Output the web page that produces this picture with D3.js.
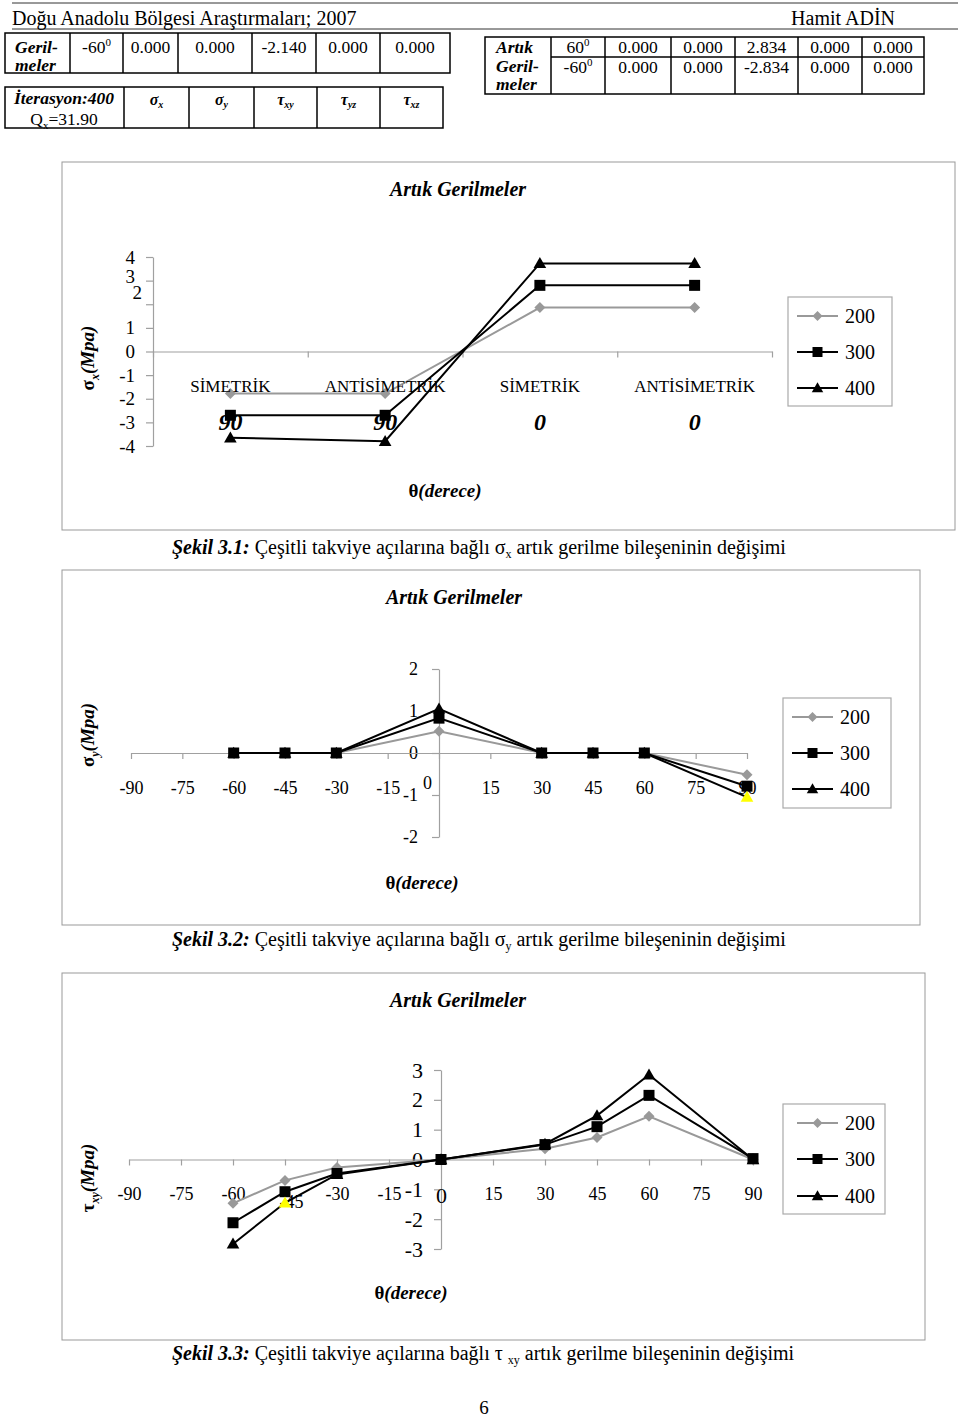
<!DOCTYPE html>
<html>
<head>
<meta charset="utf-8">
<script src="https://cdn.jsdelivr.net/npm/d3@7"></script>
<style>
body { margin: 0; background: #fff; }
svg text { font-family: "Liberation Serif", "Times New Roman", serif; fill: #000; }
</style>
</head>
<body>
<svg></svg>
<script>

// ---- data ----
var seriesNames = ["200", "300", "400"]

// tables
var tab1Row = ["-60", "0.000", "0.000", "-2.140", "0.000", "0.000"]
var tab2Heads = [["σ", "x"], ["σ", "y"], ["τ", "xy"], ["τ", "yz"], ["τ", "xz"]]
var tab3Row1 = ["60", "0.000", "0.000", "2.834", "0.000", "0.000"]
var tab3Row2 = ["-60", "0.000", "0.000", "-2.834", "0.000", "0.000"]

// Sekil 3.1 (sigma x)
var sxGroups = ["SİMETRİK", "ANTİSİMETRİK", "SİMETRİK", "ANTİSİMETRİK"]
var sxAngles = ["90", "90", "0", "0"]
var sxTicks = [-4, -3, -2, -1, 0, 1, 2, 3, 4]
var sx200 = [-1.78, -1.78, 1.86, 1.86]
var sx300 = [-2.7, -2.7, 2.8, 2.8]
var sx400 = [-3.65, -3.8, 3.73, 3.73]

// Sekil 3.2 / 3.3
var thetaTicks = [-90, -75, -60, -45, -30, -15, 0, 15, 30, 45, 60, 75, 90]
var thetas = [-60, -45, -30, 0, 30, 45, 60, 90]

var syTicks = [-2, -1, 0, 1, 2]
var sy200 = [0, 0, 0, 0.52, 0, 0, 0, -0.52]
var sy300 = [0, 0, 0, 0.83, 0, 0, 0, -0.79]
var sy400 = [0, 0, 0, 1.05, 0, 0, 0, -1.05]

var txyTicks = [-3, -2, -1, 0, 1, 2, 3]
var txy200 = [-1.47, -0.7, -0.27, 0, 0.36, 0.74, 1.45, 0]
var txy300 = [-2.12, -1.08, -0.47, 0, 0.5, 1.1, 2.15, 0.03]
var txy400 = [-2.83, -1.45, -0.5, 0, 0.52, 1.47, 2.84, 0]

// ---- styles ----
var serColor = ["#999999", "#000", "#000"]
var serShape = ["diamond", "square", "triangle"]
var axisGrey = "#a0a0a0"

var svg = d3.select("svg")
    .attr("width", 960)
    .attr("height", 1419)

svg.append("rect").attr("width", 960).attr("height", 1419).attr("fill", "#fff")

function marker(type, s) {
    if (type == "diamond") return "M0," + (-s) + "L" + s + ",0L0," + s + "L" + (-s) + ",0Z"
    if (type == "square") return "M" + (-s) + "," + (-s) + "H" + s + "V" + s + "H" + (-s) + "Z"
    return "M0," + (-s * 1.15) + "L" + (s * 1.15) + "," + (s * 0.85) + "L" + (-s * 1.15) + "," + (s * 0.85) + "Z"
}

// ---- page header ----
svg.append("line").attr("x1", 12).attr("x2", 958).attr("y1", 3).attr("y2", 3)
    .attr("stroke", "#333").attr("stroke-width", 1)
svg.append("line").attr("x1", 12).attr("x2", 958).attr("y1", 29).attr("y2", 29)
    .attr("stroke", "#333").attr("stroke-width", 1)
svg.append("text").attr("x", 12).attr("y", 25).style("font-size", "20px")
    .text("Doğu Anadolu Bölgesi Araştırmaları; 2007")
svg.append("text").attr("x", 895).attr("y", 25).attr("text-anchor", "end").style("font-size", "20px")
    .text("Hamit ADİN")

// ---- tables ----
function tableGrid(cols, rows, skipFirstCol) {
    var g = svg.append("g").attr("stroke", "#000").attr("stroke-width", 1.5).attr("fill", "none")
    g.append("rect").attr("x", cols[0]).attr("y", rows[0])
        .attr("width", cols[cols.length - 1] - cols[0]).attr("height", rows[rows.length - 1] - rows[0])
    cols.slice(1, -1).forEach(function (c) {
        g.append("line").attr("x1", c).attr("x2", c).attr("y1", rows[0]).attr("y2", rows[rows.length - 1])
    })
    rows.slice(1, -1).forEach(function (r) {
        g.append("line").attr("x1", skipFirstCol ? cols[1] : cols[0]).attr("x2", cols[cols.length - 1])
            .attr("y1", r).attr("y2", r)
    })
}

function degText(x, y, v) {
    var t = svg.append("text").attr("x", x).attr("y", y).attr("text-anchor", "middle").style("font-size", "17.5px")
    t.append("tspan").text(v)
    t.append("tspan").attr("dy", -7).style("font-size", "11px").text("0")
}

function cellText(x, y, v) {
    svg.append("text").attr("x", x).attr("y", y).attr("text-anchor", "middle").style("font-size", "17.5px").text(v)
}

function bi(x, y, v, anchor) {
    svg.append("text").attr("x", x).attr("y", y).attr("text-anchor", anchor || "start")
        .style("font-size", "17.5px").style("font-weight", "bold").style("font-style", "italic").text(v)
}

// table 1
var cols1 = [5, 70, 123, 178, 252, 316, 380, 450]
tableGrid(cols1, [33, 73], false)
bi(15, 53, "Geril-")
bi(15, 71, "meler")
tab1Row.forEach(function (v, i) {
    var cx = (cols1[i + 1] + cols1[i + 2]) / 2
    if (i == 0) degText(cx, 53, v)
    else cellText(cx, 53, v)
})

// table 2
var cols2 = [5, 124, 189, 254, 317, 380, 443]
tableGrid(cols2, [87, 128], false)
bi(64, 104, "İterasyon:400", "middle")
var q = svg.append("text").attr("x", 64).attr("y", 125).attr("text-anchor", "middle").style("font-size", "17.5px")
q.append("tspan").text("Q")
q.append("tspan").attr("dy", 4).style("font-size", "11px").text("x")
q.append("tspan").attr("dy", -4).text("=31.90")
tab2Heads.forEach(function (h, i) {
    var cx = (cols2[i + 1] + cols2[i + 2]) / 2
    var t = svg.append("text").attr("x", cx).attr("y", 105).attr("text-anchor", "middle")
        .style("font-size", "16px").style("font-weight", "bold").style("font-style", "italic")
    t.append("tspan").text(h[0])
    t.append("tspan").attr("dy", 3).style("font-size", "10px").text(h[1])
})

// table 3 (right)
var cols3 = [485, 551, 605, 671, 735, 798, 862, 924]
tableGrid(cols3, [37, 57, 94], true)
bi(496, 53, "Artık")
bi(496, 72, "Geril-")
bi(496, 90, "meler")
tab3Row1.forEach(function (v, i) {
    var cx = (cols3[i + 1] + cols3[i + 2]) / 2
    if (i == 0) degText(cx, 53, v)
    else cellText(cx, 53, v)
})
tab3Row2.forEach(function (v, i) {
    var cx = (cols3[i + 1] + cols3[i + 2]) / 2
    if (i == 0) degText(cx, 73, v)
    else cellText(cx, 73, v)
})

// ---- chart helpers ----
function frame(x, y, w, h, titleX) {
    svg.append("rect").attr("x", x).attr("y", y).attr("width", w).attr("height", h)
        .attr("fill", "none").attr("stroke", "#999").attr("stroke-width", 1)
    svg.append("text").attr("x", titleX).attr("y", y + 34).attr("text-anchor", "middle")
        .style("font-size", "20px").style("font-weight", "bold").style("font-style", "italic")
        .text("Artık Gerilmeler")
}

function styleAxis(g) {
    g.selectAll("path, line").attr("stroke", axisGrey).attr("stroke-width", 1.2)
    g.selectAll("text").attr("fill", "#000").style("font-family", '"Liberation Serif", serif')
}

function drawSeries(g, xs, ys, k, hl) {
    g.append("path")
        .attr("d", d3.line()(xs.map(function (x, i) { return [x, ys[i]] })))
        .attr("fill", "none").attr("stroke", serColor[k]).attr("stroke-width", 2)
    g.selectAll(".m" + k).data(xs).enter().append("path")
        .attr("transform", function (x, i) { return "translate(" + x + "," + ys[i] + ")" })
        .attr("d", marker(serShape[k], 5.5))
        .attr("fill", function (x, i) { return hl === i ? "#ffff00" : serColor[k] })
}

function legend(x, y, w, h, rowsY, lineX) {
    var g = svg.append("g")
    g.append("rect").attr("x", x).attr("y", y).attr("width", w).attr("height", h)
        .attr("fill", "#fff").attr("stroke", "#aaa").attr("stroke-width", 1.2)
    seriesNames.forEach(function (s, k) {
        g.append("line").attr("x1", lineX).attr("x2", lineX + 41).attr("y1", rowsY[k]).attr("y2", rowsY[k])
            .attr("stroke", serColor[k]).attr("stroke-width", 2)
        g.append("path").attr("transform", "translate(" + (lineX + 20.5) + "," + rowsY[k] + ")")
            .attr("d", marker(serShape[k], 5)).attr("fill", serColor[k])
        g.append("text").attr("x", lineX + 48).attr("y", rowsY[k] + 7).style("font-size", "20px").text(s)
    })
}

function yTitle(x, y, sym, sub) {
    var t = svg.append("text").attr("transform", "translate(" + x + "," + y + ") rotate(-90)")
        .attr("text-anchor", "middle").style("font-size", "19px").style("font-weight", "bold")
    t.append("tspan").text(sym)
    t.append("tspan").attr("dy", 5).style("font-size", "12px").style("font-style", "italic").text(sub)
    t.append("tspan").attr("dy", -5).style("font-style", "italic").text("(Mpa)")
}

function xTitle(x, y) {
    var t = svg.append("text").attr("x", x).attr("y", y).attr("text-anchor", "middle")
        .style("font-size", "19px").style("font-weight", "bold")
    t.append("tspan").text("θ")
    t.append("tspan").style("font-style", "italic").text("(derece)")
}

function caption(y, num, sym, sub, gap) {
    var t = svg.append("text").attr("x", 172).attr("y", y).style("font-size", "20px")
    t.append("tspan").style("font-weight", "bold").style("font-style", "italic").text("Şekil 3." + num + ":")
    t.append("tspan").text(" Çeşitli takviye açılarına bağlı " + sym + gap)
    t.append("tspan").attr("dy", 4).style("font-size", "12px").text(sub)
    t.append("tspan").attr("dy", -4).text(" artık gerilme bileşeninin değişimi")
}

// ================= Şekil 3.1 =================
frame(62, 162, 893, 368, 458)

var x1 = d3.scaleBand().domain(d3.range(sxGroups.length)).range([153, 772])
var x1edges = d3.scaleLinear().domain([0, sxGroups.length]).range([153, 772])
var y1 = d3.scaleLinear().domain([-4, 4]).range([446, 257])

var g1 = svg.append("g")
var ax1 = g1.append("g").attr("transform", "translate(153,0)")
    .call(d3.axisLeft(y1).tickValues(sxTicks).tickSize(7).tickSizeOuter(0).tickPadding(11)
        .tickFormat(function (d) { return d }))
ax1.selectAll("text").style("font-size", "19px")
ax1.selectAll(".tick text").filter(function (d) { return d == 3 }).attr("dy", "0.12em")
ax1.selectAll(".tick text").filter(function (d) { return d == 2 }).attr("dy", "-0.3em").attr("x", -11)
styleAxis(ax1)

var bx1 = g1.append("g").attr("transform", "translate(0," + y1(0) + ")")
    .call(d3.axisBottom(x1edges).tickValues(d3.range(sxGroups.length + 1)).tickSize(6).tickSizeOuter(0)
        .tickFormat(""))
styleAxis(bx1)

var cx1 = sxGroups.map(function (d, i) { return x1(i) + x1.bandwidth() / 2 })
drawSeries(g1, cx1, sx200.map(y1), 0)
drawSeries(g1, cx1, sx300.map(y1), 1)
drawSeries(g1, cx1, sx400.map(y1), 2)

sxGroups.forEach(function (s, i) {
    g1.append("text").attr("x", cx1[i]).attr("y", 392).attr("text-anchor", "middle")
        .style("font-size", "17px").text(s)
    g1.append("text").attr("x", cx1[i]).attr("y", 430).attr("text-anchor", "middle")
        .style("font-size", "24px").style("font-weight", "bold").style("font-style", "italic").text(sxAngles[i])
})

legend(788, 297, 104, 109, [316, 352, 388], 797)
yTitle(94, 358, "σ", "x")
xTitle(445, 497)
caption(554, 1, "σ", "x", "")

// ================= Şekil 3.2 =================
frame(62, 570, 858, 355, 454)

var x2 = d3.scaleLinear().domain([-90, 90]).range([131, 747])
var y2 = d3.scaleLinear().domain([-2, 2]).range([837, 669])

var g2 = svg.append("g")
var ax2 = g2.append("g").attr("transform", "translate(" + x2(0) + ",0)")
    .call(d3.axisLeft(y2).tickValues(syTicks).tickSize(7).tickSizeOuter(0).tickPadding(14)
        .tickFormat(function (d) { return d }))
ax2.selectAll("text").style("font-size", "18px")
styleAxis(ax2)

var bx2 = g2.append("g").attr("transform", "translate(0," + y2(0) + ")")
    .call(d3.axisBottom(x2).tickValues(thetaTicks).tickSize(6).tickSizeOuter(0).tickPadding(22)
        .tickFormat(function (d) { return d }))
bx2.selectAll("text").style("font-size", "18px")
bx2.selectAll(".tick text").filter(function (d) { return d == 0 }).attr("x", -12).attr("y", 23)
styleAxis(bx2)

var tx2 = thetas.map(x2)
drawSeries(g2, tx2, sy200.map(y2), 0)
drawSeries(g2, tx2, sy300.map(y2), 1)
drawSeries(g2, tx2, sy400.map(y2), 2, 7)

legend(783, 698, 108, 110, [717, 753, 789], 792)
yTitle(94, 735, "σ", "y")
xTitle(422, 889)
caption(946, 2, "σ", "y", "")

// ================= Şekil 3.3 =================
frame(62, 973, 863, 367, 458)

var x3 = d3.scaleLinear().domain([-90, 90]).range([129, 753])
var y3 = d3.scaleLinear().domain([-3, 3]).range([1249, 1070])

var g3 = svg.append("g")
var ax3 = g3.append("g").attr("transform", "translate(" + x3(0) + ",0)")
    .call(d3.axisLeft(y3).tickValues(txyTicks).tickSize(7).tickSizeOuter(0).tickPadding(11)
        .tickFormat(function (d) { return d }))
ax3.selectAll("text").style("font-size", "22px")
styleAxis(ax3)

var bx3 = g3.append("g").attr("transform", "translate(0," + y3(0) + ")")
    .call(d3.axisBottom(x3).tickValues(thetaTicks).tickSize(6).tickSizeOuter(0).tickPadding(22)
        .tickFormat(function (d) { return d }))
bx3.selectAll("text").style("font-size", "18px")
bx3.selectAll(".tick text").filter(function (d) { return d == -45 }).attr("x", 6).attr("y", 36)
bx3.selectAll(".tick text").filter(function (d) { return d == 0 }).style("font-size", "22px")
styleAxis(bx3)

var tx3 = thetas.map(x3)
drawSeries(g3, tx3, txy200.map(y3), 0)
drawSeries(g3, tx3, txy300.map(y3), 1)
drawSeries(g3, tx3, txy400.map(y3), 2, 1)

legend(783, 1104, 102, 110, [1123, 1159, 1196], 797)
yTitle(94, 1178, "τ", "xy")
xTitle(411, 1299)
caption(1360, 3, "τ", "xy", " ")

// page number
svg.append("text").attr("x", 484).attr("y", 1414).attr("text-anchor", "middle").style("font-size", "19px").text("6")

</script>
</body>
</html>
